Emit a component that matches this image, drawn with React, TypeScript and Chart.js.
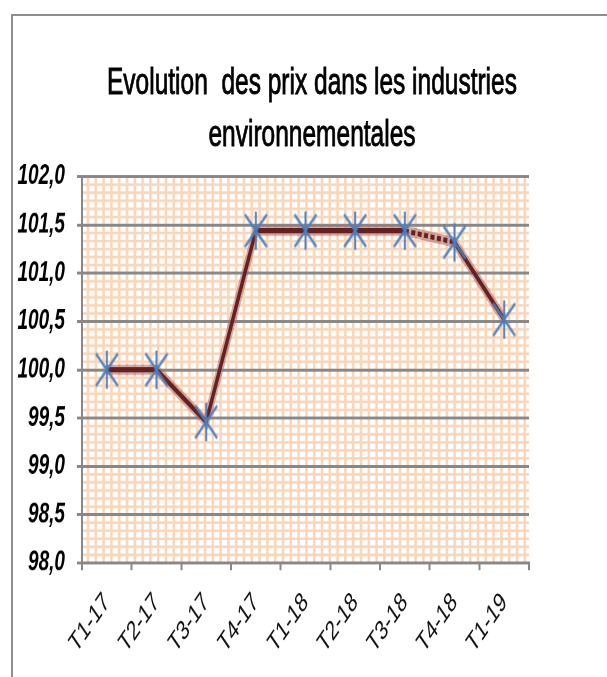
import React, { useEffect, useRef } from "react";
import { Chart, registerables } from "chart.js";

Chart.register(...registerables);

// ---- data ----
const categories = ["T1-17", "T2-17", "T3-17", "T4-17", "T1-18", "T2-18", "T3-18", "T4-18", "T1-19"];
const priceIndex = [100.0, 100.0, 99.46, 101.44, 101.44, 101.44, 101.44, 101.32, 100.52];
const yMin = 98.0;
const yMax = 102.0;
const yStep = 0.5;
const titleLines = ["Evolution  des prix dans les industries", "environnementales"];
const dashedSegmentStart = 6; // segment T3-18 -> T4-18 is dotted

// ---- layout ----
const PAGE_W = 607;
const PAGE_H = 677;
const CANVAS_H = 460; // drawn then stretched vertically to the page height
const FONT = "'Liberation Sans', Arial, Helvetica, sans-serif";
const GRID_GRAY = "#888888";

const patternPlugin = {
  id: "bgPattern",
  beforeDraw(chart: any) {
    const { ctx, chartArea: a } = chart;
    if (!a) return;
    ctx.save();
    ctx.fillStyle = "#ffffff";
    ctx.fillRect(a.left, a.top, a.right - a.left, a.bottom - a.top);
    ctx.strokeStyle = "rgb(252,214,184)";
    ctx.lineWidth = 2.6;
    for (let x = a.left + 6; x < a.right - 1; x += 7.8) {
      ctx.beginPath();
      ctx.moveTo(x, a.top);
      ctx.lineTo(x, a.bottom);
      ctx.stroke();
    }
    ctx.lineWidth = 1.8;
    const step = (a.bottom - a.top) / 48;
    for (let i = 1; i < 48; i++) {
      const y = a.top + i * step;
      ctx.beginPath();
      ctx.moveTo(a.left, y);
      ctx.lineTo(a.right, y);
      ctx.stroke();
    }
    ctx.restore();
  },
};

function makeMarker(): HTMLCanvasElement {
  const c = document.createElement("canvas");
  c.width = 24;
  c.height = 28;
  const g = c.getContext("2d")!;
  g.strokeStyle = "#4a7fc0";
  g.lineWidth = 1.9;
  g.beginPath();
  g.moveTo(12, 1);
  g.lineTo(12, 27);
  g.moveTo(1, 3);
  g.lineTo(23, 25);
  g.moveTo(23, 3);
  g.lineTo(1, 25);
  g.stroke();
  return c;
}

export default function App() {
  const ref = useRef<HTMLCanvasElement | null>(null);

  useEffect(() => {
    if (!ref.current) return;
    const marker = makeMarker();
    const chart = new Chart(ref.current, {
      type: "line",
      data: {
        labels: categories,
        datasets: [
          {
            data: priceIndex,
            borderColor: "rgba(170,105,100,0.55)",
            borderWidth: 7,
            pointRadius: 0,
            tension: 0,
            order: 2,
          },
          {
            data: priceIndex,
            borderColor: "#662020",
            borderWidth: 3.4,
            tension: 0,
            pointStyle: marker as any,
            pointRadius: 12,
            order: 1,
            segment: {
              borderDash: (c: any) => (c.p0DataIndex === dashedSegmentStart ? [4, 2.5] : undefined),
            },
          },
        ],
      },
      options: {
        responsive: false,
        animation: false,
        devicePixelRatio: 2,
        layout: { padding: { top: 120, right: 78, bottom: 0, left: 0 } },
        plugins: {
          legend: { display: false },
          title: { display: false },
          tooltip: { enabled: false },
        },
        scales: {
          x: {
            type: "category",
            offset: true,
            grid: {
              offset: true,
              drawOnChartArea: false,
              drawTicks: true,
              tickLength: 5,
              color: GRID_GRAY,
              lineWidth: 2,
            },
            border: { display: true, color: GRID_GRAY, width: 2 },
            ticks: {
              autoSkip: false,
              maxRotation: 45,
              minRotation: 45,
              padding: 11,
              color: "#111111",
              font: { family: FONT, size: 18.5 },
            },
            afterFit: (s: any) => {
              s.height = CANVAS_H - 382.5;
            },
          },
          y: {
            min: yMin,
            max: yMax,
            ticks: {
              stepSize: yStep,
              padding: 12,
              color: "#000000",
              font: { family: FONT, size: 19, style: "italic", weight: "bold" },
              callback: (v: any) => Number(v).toFixed(1).replace(".", ","),
            },
            grid: { color: GRID_GRAY, lineWidth: 2, tickLength: 5 },
            border: { display: true, color: GRID_GRAY, width: 2 },
            afterFit: (s: any) => {
              s.width = 82;
            },
          },
        },
      },
      plugins: [patternPlugin],
    });
    return () => chart.destroy();
  }, []);

  return (
    <div
      style={{
        position: "absolute",
        left: 0,
        top: 0,
        width: PAGE_W,
        height: PAGE_H,
        overflow: "hidden",
        background: "#ffffff",
      }}
    >
      <div
        style={{
          position: "absolute",
          left: 11,
          top: 14,
          width: 700,
          height: 700,
          borderLeft: "2px solid #8e8e8e",
          borderTop: "2px solid #8e8e8e",
        }}
      />
      <div
        style={{
          position: "absolute",
          left: 0,
          top: 0,
          width: PAGE_W,
          height: CANVAS_H,
          transform: `scaleY(${PAGE_H / CANVAS_H})`,
          transformOrigin: "0 0",
        }}
      >
        <canvas
          ref={ref}
          width={PAGE_W}
          height={CANVAS_H}
          style={{ position: "absolute", left: 0, top: 0 }}
        />
        <div
          style={{
            position: "absolute",
            left: 0,
            top: 39,
            width: 624,
            textAlign: "center",
            fontFamily: FONT,
            fontSize: 24.5,
            lineHeight: "34.6px",
            color: "#000000",
            whiteSpace: "pre",
            WebkitTextStroke: "0.6px #000000",
          }}
        >
          {titleLines[0]}
          <br />
          {titleLines[1]}
        </div>
      </div>
    </div>
  );
}
